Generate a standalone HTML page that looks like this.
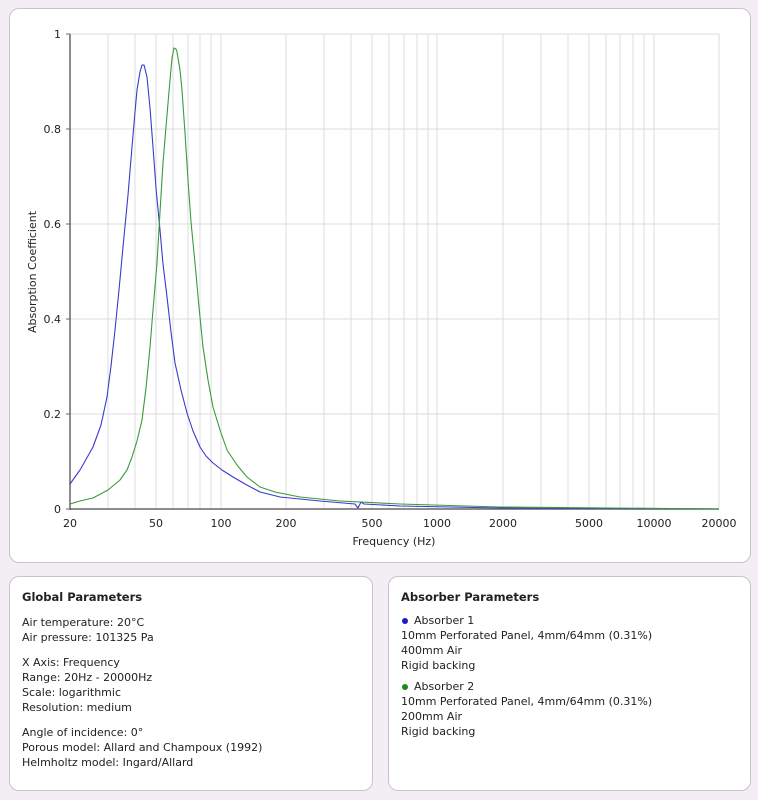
<!DOCTYPE html>
<html><head><meta charset="utf-8"><style>
body{margin:0;width:758px;height:800px;background:#f2eef4;font-family:"DejaVu Sans","Liberation Sans",sans-serif;font-size:11px;color:#222;position:relative;overflow:hidden}
.p{position:absolute;background:#fff;border:1px solid #c9c2cc;border-radius:10px;box-sizing:border-box}
.t{position:absolute;white-space:nowrap;line-height:15px}
h4{margin:0;font-size:11.5px;font-weight:bold}
.dot{display:inline-block;width:6px;height:6px;border-radius:50%;margin:0 6px 1px 1px;vertical-align:middle}
</style></head><body>
<div class="p" style="left:9px;top:8px;width:742px;height:555px"></div>
<svg style="position:absolute;left:0;top:0" width="758" height="570">
<g stroke="#dcdcdc" stroke-width="1">
<line x1="70" y1="34" x2="719" y2="34"/><line x1="70" y1="129" x2="719" y2="129"/><line x1="70" y1="224" x2="719" y2="224"/><line x1="70" y1="319" x2="719" y2="319"/><line x1="70" y1="414" x2="719" y2="414"/>
<line x1="108" y1="34" x2="108" y2="509"/><line x1="135" y1="34" x2="135" y2="509"/><line x1="156" y1="34" x2="156" y2="509"/><line x1="173" y1="34" x2="173" y2="509"/><line x1="188" y1="34" x2="188" y2="509"/><line x1="200" y1="34" x2="200" y2="509"/><line x1="211" y1="34" x2="211" y2="509"/><line x1="221" y1="34" x2="221" y2="509"/>
<line x1="286" y1="34" x2="286" y2="509"/><line x1="324" y1="34" x2="324" y2="509"/><line x1="351" y1="34" x2="351" y2="509"/><line x1="372" y1="34" x2="372" y2="509"/><line x1="389" y1="34" x2="389" y2="509"/><line x1="404" y1="34" x2="404" y2="509"/><line x1="417" y1="34" x2="417" y2="509"/><line x1="428" y1="34" x2="428" y2="509"/><line x1="437" y1="34" x2="437" y2="509"/>
<line x1="503" y1="34" x2="503" y2="509"/><line x1="541" y1="34" x2="541" y2="509"/><line x1="568" y1="34" x2="568" y2="509"/><line x1="589" y1="34" x2="589" y2="509"/><line x1="606" y1="34" x2="606" y2="509"/><line x1="620" y1="34" x2="620" y2="509"/><line x1="633" y1="34" x2="633" y2="509"/><line x1="644" y1="34" x2="644" y2="509"/><line x1="654" y1="34" x2="654" y2="509"/><line x1="719" y1="34" x2="719" y2="509"/>
</g>
<g stroke="#666" stroke-width="1.5"><line x1="70" y1="34" x2="70" y2="510"/><line x1="70" y1="509" x2="719" y2="509"/></g>
<g stroke="#666"><line x1="66" y1="34" x2="70" y2="34"/><line x1="66" y1="129" x2="70" y2="129"/><line x1="66" y1="224" x2="70" y2="224"/><line x1="66" y1="319" x2="70" y2="319"/><line x1="66" y1="414" x2="70" y2="414"/><line x1="66" y1="509" x2="70" y2="509"/></g>
<polyline fill="none" stroke="#3a3ad0" stroke-width="1.1" stroke-linejoin="round" points="70,484 80,470 93,447 101,425 107,397 111,366 115,330 119,290 123,247 128,195 132,147 135,112 137,90 140,72 142,65 144,65 147,77 150,108 153,147 156,188 160,230 163,264 167,297 171,332 175,363 181,390 187,413 193,431 200,447 206,456 213,463 222,470 233,477 245,484 260,492 280,497 320,501 355,504 358,508 361,502 364,504 400,506 500,508 719,509"/>
<polyline fill="none" stroke="#3a9a3a" stroke-width="1.1" stroke-linejoin="round" points="70,504 80,501 93,498 108,490 120,480 127,470 132,457 137,441 142,420 146,388 150,347 153,310 157,263 160,212 163,163 167,115 170,80 172,58 174,48 176,49 177,52 180,70 182,90 185,133 188,180 191,222 195,263 199,307 203,347 208,380 213,407 220,430 227,450 237,465 247,477 260,487 275,492 300,497 340,501 400,504 500,507 719,509"/>
<g font-family="DejaVu Sans,sans-serif" font-size="11" fill="#222" text-anchor="end">
<text x="61" y="38">1</text><text x="61" y="133">0.8</text><text x="61" y="228">0.6</text><text x="61" y="323">0.4</text><text x="61" y="418">0.2</text><text x="61" y="513">0</text>
</g>
<g font-family="DejaVu Sans,sans-serif" font-size="11" fill="#222" text-anchor="middle">
<text x="70" y="527">20</text><text x="156" y="527">50</text><text x="221" y="527">100</text><text x="286" y="527">200</text><text x="372" y="527">500</text><text x="437" y="527">1000</text><text x="503" y="527">2000</text><text x="589" y="527">5000</text><text x="654" y="527">10000</text><text x="719" y="527">20000</text>
<text x="394" y="545">Frequency (Hz)</text>
<text transform="translate(36,272) rotate(-90)">Absorption Coefficient</text>
</g>
</svg>
<div class="p" style="left:9px;top:576px;width:364px;height:215px"></div>
<div class="p" style="left:388px;top:576px;width:363px;height:215px"></div>
<div class="t" style="left:22px;top:590px">
<h4>Global Parameters</h4>
<div style="height:10px"></div>
Air temperature: 20°C<br>Air pressure: 101325 Pa<br><div style="height:10px"></div>
X Axis: Frequency<br>Range: 20Hz - 20000Hz<br>Scale: logarithmic<br>Resolution: medium<br><div style="height:10px"></div>
Angle of incidence: 0°<br>Porous model: Allard and Champoux (1992)<br>Helmholtz model: Ingard/Allard
</div>
<div class="t" style="left:401px;top:590px">
<h4>Absorber Parameters</h4>
<div style="height:8px"></div>
<span class="dot" style="background:#1a1acc"></span>Absorber 1<br>10mm Perforated Panel, 4mm/64mm (0.31%)<br>400mm Air<br>Rigid backing<br>
<div style="height:6px"></div>
<span class="dot" style="background:#1a8a1a"></span>Absorber 2<br>10mm Perforated Panel, 4mm/64mm (0.31%)<br>200mm Air<br>Rigid backing
</div>
</body></html>
